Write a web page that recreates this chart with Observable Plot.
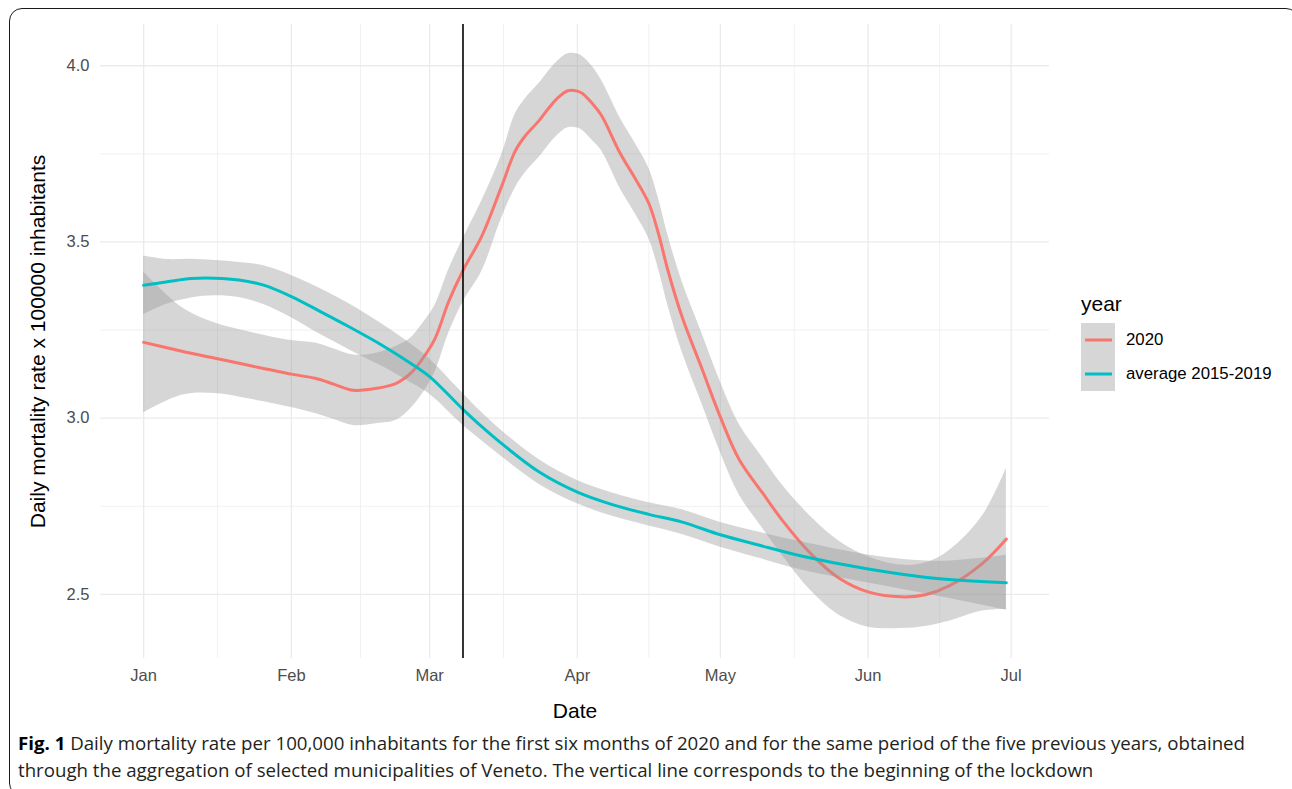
<!DOCTYPE html>
<html>
<head>
<meta charset="utf-8">
<script src="https://cdn.jsdelivr.net/npm/d3@7"></script>
<script src="https://cdn.jsdelivr.net/npm/@observablehq/plot@0.6"></script>
<style>
html, body { margin: 0; padding: 0; background: #fff; width: 1292px; height: 789px; overflow: hidden; }
#frame { position: absolute; left: 9px; top: 8px; width: 1290px; height: 788px; border: 1.6px solid #1a1a1a; border-radius: 13px; box-sizing: border-box; }
#chart { position: absolute; left: 0; top: 0; }
#legend { position: absolute; left: 0; top: 0; font-family: "Liberation Sans", Arial, sans-serif; }
.ltitle { position: absolute; left: 1081px; top: 292px; font-size: 21px; line-height: 24px; color: #000; white-space: nowrap; }
.lkey { position: absolute; left: 1081px; width: 34px; height: 34px; }
.llab { position: absolute; left: 1126px; font-size: 16.8px; line-height: 20px; color: #000; white-space: nowrap; }
#caption { position: absolute; left: 18px; top: 730px; font-family: "Open Sans", "Noto Sans", sans-serif; font-size: 18px; line-height: 27px; color: #231f20; transform-origin: 0 0; white-space: nowrap; }
#caption b { color: #000; }
</style>
</head>
<body>
<div id="frame"></div>
<div id="chart"></div>
<div id="legend"></div>
<div id="caption"></div>
<script>
// ---- data ----
const dates2020 = ["2020-01-01","2020-01-09","2020-01-16","2020-01-23","2020-02-01","2020-02-06","2020-02-10","2020-02-14","2020-02-19","2020-02-23","2020-02-26","2020-02-28","2020-03-02","2020-03-05","2020-03-08","2020-03-12","2020-03-16","2020-03-19","2020-03-21","2020-03-24","2020-03-26","2020-03-28","2020-03-30","2020-04-01","2020-04-02","2020-04-04","2020-04-06","2020-04-10","2020-04-13","2020-04-16","2020-04-18","2020-04-20","2020-04-23","2020-04-27","2020-05-01","2020-05-05","2020-05-10","2020-05-14","2020-05-20","2020-05-26","2020-06-01","2020-06-08","2020-06-13","2020-06-18","2020-06-25","2020-06-30"];
const rate2020 = [3.215,3.19,3.17,3.15,3.125,3.113,3.096,3.079,3.085,3.099,3.127,3.159,3.222,3.331,3.419,3.518,3.654,3.759,3.80,3.845,3.88,3.91,3.929,3.928,3.922,3.895,3.86,3.751,3.683,3.609,3.524,3.419,3.286,3.145,3.003,2.881,2.785,2.71,2.615,2.545,2.507,2.493,2.499,2.524,2.588,2.657];
const halfBand2020 = [0.20,0.125,0.10,0.095,0.095,0.10,0.10,0.10,0.10,0.105,0.10,0.10,0.095,0.09,0.09,0.10,0.09,0.105,0.105,0.105,0.105,0.105,0.105,0.105,0.105,0.105,0.10,0.10,0.10,0.10,0.10,0.10,0.10,0.10,0.10,0.10,0.10,0.10,0.105,0.105,0.10,0.09,0.09,0.10,0.135,0.20];

const datesAvg = ["2020-01-01","2020-01-06","2020-01-11","2020-01-16","2020-01-21","2020-01-26","2020-02-01","2020-02-07","2020-02-13","2020-02-20","2020-02-26","2020-03-01","2020-03-08","2020-03-12","2020-03-16","2020-03-24","2020-04-01","2020-04-08","2020-04-16","2020-04-23","2020-05-01","2020-05-09","2020-05-18","2020-06-01","2020-06-16","2020-06-30"];
const rateAvg = [3.377,3.387,3.396,3.397,3.392,3.378,3.345,3.303,3.26,3.207,3.156,3.118,3.025,2.975,2.929,2.847,2.79,2.756,2.727,2.705,2.669,2.64,2.609,2.572,2.544,2.533];
const halfBandAvg = [0.083,0.063,0.055,0.05,0.05,0.055,0.06,0.065,0.065,0.06,0.055,0.05,0.045,0.04,0.037,0.035,0.033,0.033,0.033,0.035,0.035,0.037,0.04,0.04,0.05,0.078];

const lockdownDate = "2020-03-08";
const xTickDates = ["2020-01-01","2020-02-01","2020-03-01","2020-04-01","2020-05-01","2020-06-01","2020-07-01"];
const xTickLabels = ["Jan","Feb","Mar","Apr","May","Jun","Jul"];
const xMinorDates = ["2020-01-16T12:00Z","2020-02-15T12:00Z","2020-03-16T12:00Z","2020-04-16T00:00Z","2020-05-16T12:00Z","2020-06-16T00:00Z"];
const yTicks = [2.5, 3.0, 3.5, 4.0];
const yMinor = [2.75, 3.25, 3.75];
const seriesNames = ["2020", "average 2015-2019"];
const seriesColors = ["#F8766D", "#00BFC4"];

// ---- tables ----
const tbl2020 = dates2020.map((d, i) => ({date: new Date(d), v: rate2020[i], lo: rate2020[i] - halfBand2020[i], hi: rate2020[i] + halfBand2020[i]}));
const tblAvg = datesAvg.map((d, i) => ({date: new Date(d), v: rateAvg[i], lo: rateAvg[i] - halfBandAvg[i], hi: rateAvg[i] + halfBandAvg[i]}));
const xMajor = xTickDates.map(d => new Date(d));
const xMinor = xMinorDates.map(d => new Date(d));
const day = 864e5;
const t0 = +new Date(dates2020[0]);
const xDomain = [new Date(t0 - 9.05 * day), new Date(t0 + 190.05 * day)];

const font = "'Liberation Sans', Arial, sans-serif";
const grid = "#EBEBEB";

const chart = Plot.plot({
  width: 1060,
  height: 730,
  marginLeft: 100,
  marginRight: 11,
  marginTop: 24,
  marginBottom: 72,
  style: {fontFamily: font, background: "transparent", overflow: "visible"},
  x: {type: "utc", domain: xDomain},
  y: {domain: [2.318, 4.117]},
  marks: [
    Plot.ruleX(xMinor, {stroke: grid, strokeWidth: 0.7}),
    Plot.ruleY(yMinor, {stroke: grid, strokeWidth: 0.7}),
    Plot.ruleX(xMajor, {stroke: grid, strokeWidth: 1.3}),
    Plot.ruleY(yTicks, {stroke: grid, strokeWidth: 1.3}),
    Plot.areaY(tbl2020, {x: "date", y1: "lo", y2: "hi", fill: "#999999", fillOpacity: 0.4, curve: "catmull-rom"}),
    Plot.line(tbl2020, {x: "date", y: "v", stroke: seriesColors[0], strokeWidth: 3, curve: "catmull-rom"}),
    Plot.areaY(tblAvg, {x: "date", y1: "lo", y2: "hi", fill: "#999999", fillOpacity: 0.4, curve: "catmull-rom"}),
    Plot.line(tblAvg, {x: "date", y: "v", stroke: seriesColors[1], strokeWidth: 3, curve: "catmull-rom"}),
    Plot.ruleX([new Date(lockdownDate)], {stroke: "#000", strokeWidth: 1.6}),
    Plot.axisX(xMajor, {tickSize: 0, tickPadding: 11, fontSize: 16.5, fill: "#4D4D4D", label: null,
      tickFormat: d => xTickLabels[xMajor.findIndex(t => +t === +d)]}),
    Plot.axisY(yTicks, {tickSize: 0, tickPadding: 11, fontSize: 16.5, fill: "#4D4D4D", label: null,
      tickFormat: d => d.toFixed(1)}),
    Plot.text(["Date"], {text: d => d, frameAnchor: "bottom", dy: 53, fontSize: 21, fill: "#000", lineAnchor: "middle"}),
    Plot.text(["Daily mortality rate x 100000 inhabitants"], {text: d => d, frameAnchor: "left", dx: -62, rotate: -90, fontSize: 21, fill: "#000", lineAnchor: "middle", textAnchor: "middle"})
  ]
});
document.getElementById("chart").appendChild(chart);

// ---- legend ----
const legend = document.getElementById("legend");
legend.innerHTML = '<div class="ltitle">year</div>' + seriesNames.map((name, i) => {
  const top = 323 + i * 34;
  return `<svg class="lkey" style="top:${top}px" width="34" height="34"><rect x="0" y="0" width="34" height="34" fill="#999999" fill-opacity="0.4"/><line x1="4" x2="31" y1="17" y2="17" stroke="${seriesColors[i]}" stroke-width="3"/></svg>` +
    `<div class="llab" style="top:${top + 7}px">${name}</div>`;
}).join("");

// ---- caption ----
const cap = document.getElementById("caption");
cap.innerHTML = '<span id="c1"><b>Fig. 1</b> Daily mortality rate per 100,000 inhabitants for the first six months of 2020 and for the same period of the five previous years, obtained</span><br><span id="c2">through the aggregation of selected municipalities of Veneto. The vertical line corresponds to the beginning of the lockdown</span>';
const w1 = document.getElementById("c1").getBoundingClientRect().width;
cap.style.transform = `scaleX(${1227 / w1})`;
</script>
</body>
</html>
